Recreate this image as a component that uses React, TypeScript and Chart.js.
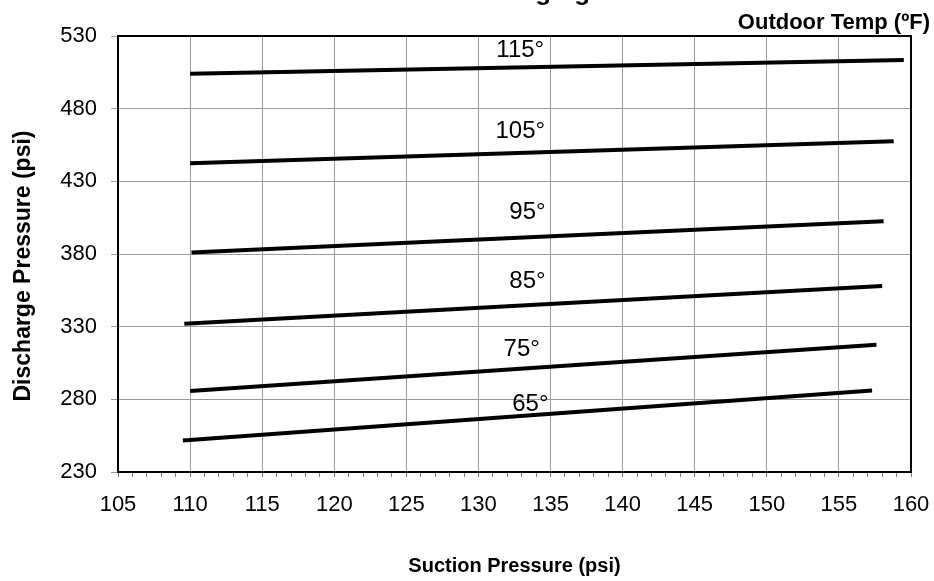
import React, { useEffect, useRef } from "react";
import { Chart, registerables } from "chart.js";

Chart.register(...registerables);

const FONT = '"Liberation Sans", Arial, Helvetica, sans-serif';

const chartTitle = "Charging Chart";
const xAxisTitle = "Suction Pressure (psi)";
const yAxisTitle = "Discharge Pressure (psi)";
const legendTitle = "Outdoor Temp (ºF)";

const xMin = 105;
const xMax = 160;
const yMin = 230;
const yMax = 530;
const yStep = 50;

const temps = ["115°", "105°", "95°", "85°", "75°", "65°"];
const startSuction = [110, 110, 110.1, 109.6, 110, 109.5];
const startDischarge = [504, 442.5, 381, 332, 285.7, 251.6];
const endSuction = [159.5, 158.8, 158.1, 158, 157.6, 157.3];
const endDischarge = [513.5, 457.5, 402.5, 358, 317.5, 286];
const labelSuction = [132.9, 132.9, 133.4, 133.4, 133.0, 133.6];
const labelDischarge = [520.2, 464.5, 408.8, 361.3, 314.6, 276.7];

const textPlugin = {
  id: "textPlugin",
  afterDraw(chart: any) {
    const { ctx, chartArea, scales } = chart;
    const xs = scales.x;
    const ys = scales.y;
    ctx.save();
    ctx.strokeStyle = "#000";
    ctx.lineWidth = 2;
    ctx.strokeRect(chartArea.left, chartArea.top, chartArea.right - chartArea.left, chartArea.bottom - chartArea.top);

    ctx.fillStyle = "#000";
    ctx.font = `24px ${FONT}`;
    ctx.textAlign = "center";
    ctx.textBaseline = "middle";
    temps.forEach((t, i) => {
      ctx.fillText(t, xs.getPixelForValue(labelSuction[i]), ys.getPixelForValue(labelDischarge[i]));
    });

    ctx.font = `bold 26px ${FONT}`;
    ctx.textAlign = "left";
    ctx.textBaseline = "alphabetic";
    ctx.fillText(chartTitle, 476, 0);

    ctx.font = `bold 22px ${FONT}`;
    ctx.textAlign = "right";
    ctx.fillText(legendTitle, 930, 29);

    ctx.font = `bold 20px ${FONT}`;
    ctx.textAlign = "center";
    ctx.fillText(xAxisTitle, (chartArea.left + chartArea.right) / 2, 572);

    ctx.font = `bold 23px ${FONT}`;
    ctx.translate(24, 266);
    ctx.rotate(-Math.PI / 2);
    ctx.textBaseline = "middle";
    ctx.fillText(yAxisTitle, 0, 0);
    ctx.restore();
  },
};

export default function App() {
  const ref = useRef<HTMLCanvasElement | null>(null);
  useEffect(() => {
    document.body.style.margin = "0";
    const canvas = ref.current!;
    const datasets = temps.map((t, i) => ({
      label: t,
      data: [
        { x: startSuction[i], y: startDischarge[i] },
        { x: endSuction[i], y: endDischarge[i] },
      ],
      borderColor: "#000",
      backgroundColor: "#000",
      borderWidth: 4,
      borderCapStyle: "butt" as const,
      pointRadius: 0,
      fill: false,
      tension: 0,
    }));
    const chart = new Chart(canvas, {
      type: "line",
      data: { datasets },
      options: {
        responsive: false,
        animation: false,
        devicePixelRatio: 1,
        layout: { padding: { top: 36, right: 23, left: 0, bottom: 0 } },
        plugins: {
          legend: { display: false },
          title: { display: false },
          tooltip: { enabled: false },
        },
        scales: {
          x: {
            type: "linear",
            min: xMin,
            max: xMax,
            afterFit: (s: any) => {
              s.height = 109;
              s.paddingLeft = 0;
              s.paddingRight = 0;
            },
            afterBuildTicks: (s: any) => {
              const arr = [];
              for (let v = xMin; v <= xMax; v++) arr.push({ value: v });
              s.ticks = arr;
            },
            ticks: {
              autoSkip: false,
              maxRotation: 0,
              padding: 15,
              color: "#000",
              font: { family: FONT, size: 22 },
              callback: (v: any) => (Number(v) % 5 === 0 ? String(v) : ""),
            },
            grid: {
              color: (c: any) => (c.tick && c.tick.value % 5 === 0 ? "#9a9a9a" : "rgba(0,0,0,0)"),
              tickColor: "#777",
              tickLength: 5,
              lineWidth: 1,
            },
            border: { color: "#000", width: 2 },
          },
          y: {
            type: "linear",
            min: yMin,
            max: yMax,
            afterFit: (s: any) => {
              s.width = 118;
              s.paddingTop = 0;
              s.paddingBottom = 0;
            },
            ticks: {
              stepSize: yStep,
              padding: 14,
              color: "#000",
              font: { family: FONT, size: 22 },
            },
            grid: {
              color: "#9a9a9a",
              tickColor: "#9a9a9a",
              tickLength: 7,
              lineWidth: 1,
            },
            border: { color: "#000", width: 2 },
          },
        },
      },
      plugins: [textPlugin],
    });
    return () => chart.destroy();
  }, []);
  return (
    <div style={{ position: "absolute", left: 0, top: 0, width: 934, height: 581, background: "#fff" }}>
      <canvas ref={ref} width={934} height={581} />
    </div>
  );
}
